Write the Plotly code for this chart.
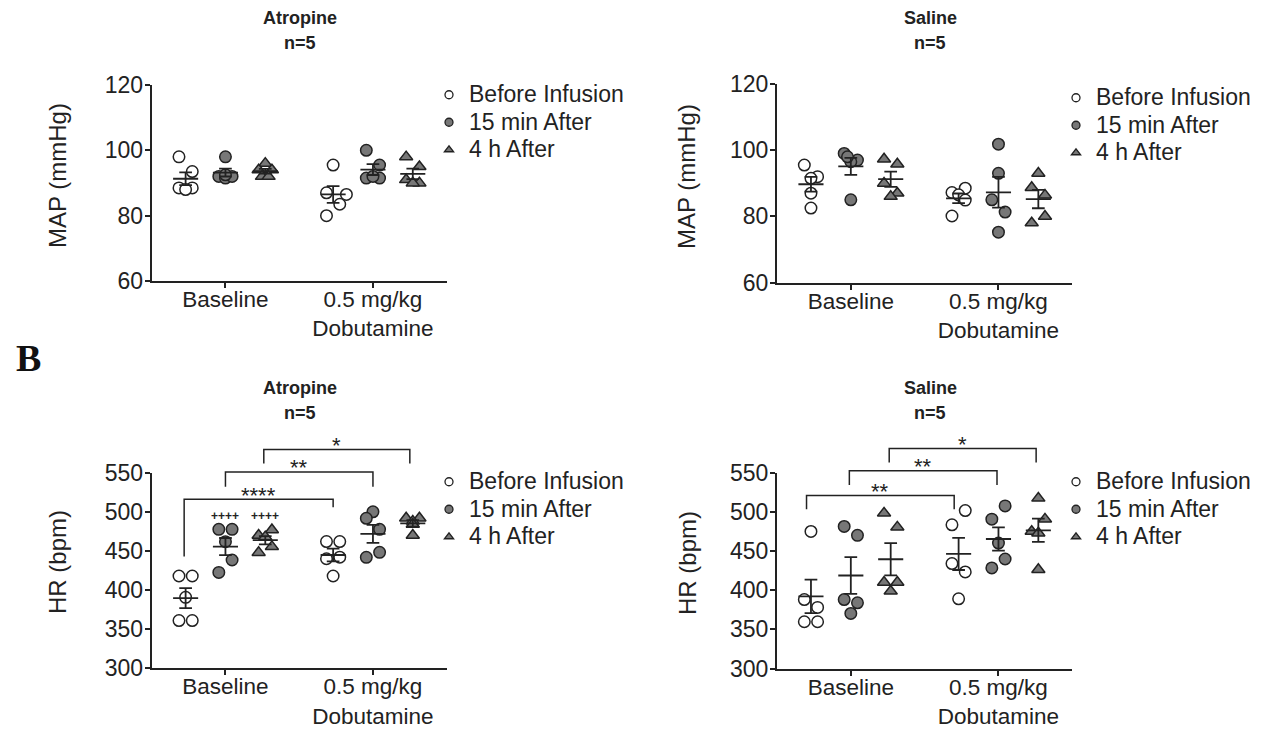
import numpy as np
import plotly.graph_objects as go

W, H = 1262, 730

# ---------------- data ----------------
categories = ["Baseline", "0.5 mg/kg<br>Dobutamine"]
series_names = ["Before Infusion", "15 min After", "4 h After"]

# order of groups: Baseline/Before, Baseline/15min, Baseline/4h, Dob/Before, Dob/15min, Dob/4h
atropine_map = [
    [98, 93.5, 88.5, 88.5, 88],
    [98, 92, 91.5, 92, 92.5],
    [96, 94, 94, 92, 92],
    [95.5, 86.5, 87, 83.5, 80],
    [100, 95.5, 91.5, 91.5, 92],
    [98, 95, 91, 90, 90],
]
saline_map = [
    [95.5, 92, 91.5, 87, 82.5],
    [99, 97, 96.5, 98, 85],
    [97.3, 95.8, 90, 87, 86],
    [88.5, 87.2, 86.5, 84.9, 80.1],
    [101.8, 93, 85, 81.3, 75.2],
    [93, 88.7, 86.4, 80, 78],
]
atropine_hr = [
    [418, 418, 390.7, 361, 361],
    [477.6, 477.6, 461.8, 438.4, 422.6],
    [477, 470, 468, 455.5, 448],
    [462, 462, 440, 442, 418],
    [500, 491.7, 477.6, 441.8, 448.2],
    [492, 492, 488, 484, 470],
]
saline_hr = [
    [475, 388, 378, 359.7, 359.7],
    [481.4, 470, 388, 383.9, 370.3],
    [498.3, 480.5, 410, 410, 398.7],
    [501.7, 483.5, 434, 423.3, 389],
    [507.6, 490.7, 460.2, 439.8, 428.4],
    [517.4, 490.7, 475, 472.9, 426.3],
]

# horizontal scatter (jitter) of each point, in units of one marker radius
atropine_map_jitter = [
    [-1, 1, -1, 1, 0], [0, -1, 0, 1, 0], [0, -1, 1, -0.5, 0.5],
    [0, 2, -1, 1, -1], [-1, 1, -1, 1, 0], [-1, 1, -1, 1, 0],
]
saline_map_jitter = [
    [-1, 1, 0, 0, 0], [-1, 1, 0, -0.5, 0], [-1, 1, -1, 1, 0],
    [1, -1, 0, 1, -1], [0, 0, -1, 1, 0], [0, -1, 1, 1, -1],
]
atropine_hr_jitter = [
    [-1, 1, 0, -1, 1], [-1, 1, 0, 1, -1], [1, -1, 0, 1, -1],
    [-1, 1, -1, 1, 0], [0, -1, 1, -1, 1], [-1, 1, 0, 0, 0],
]
saline_hr_jitter = [
    [0, -1, 1, -1, 1], [-1, 1, -1, 1, 0], [-1, 1, -1, 1, 0],
    [1, -1, -1, 1, 0], [1, -1, 0, 1, -1], [0, 1, -1, 0, 0],
]

y_ticks_map = [60, 80, 100, 120]
y_ticks_hr = [300, 350, 400, 450, 500, 550]

# significance brackets: (x start, x end, top, left leg end, right leg end, label)
atropine_hr_brackets = [
    (-0.28, 0.73, 516, 443, 506, "****"),
    (0.0, 1.0, 551, 532, 532, "**"),
    (0.26, 1.25, 579.6, 561.7, 561.7, "*"),
]
saline_hr_brackets = [
    (-0.30, 0.70, 520.8, 503.4, 503.4, "**"),
    (-0.01, 0.99, 552.5, 534.3, 534.3, "**"),
    (0.26, 1.255, 580.9, 563, 563, "*"),
]
atropine_hr_plus = [(0.0, 494.6, "++++"), (0.27, 494.6, "++++")]

# ---------------- style ----------------
FONT = "Arial, Liberation Sans, sans-serif"
INK = "#222222"
GREY = "#777777"
series_offset = [-0.27, 0.0, 0.27]
JIT = 0.045
marker_style = [
    dict(symbol="circle", color="white"),
    dict(symbol="circle", color=GREY),
    dict(symbol="triangle-up", color=GREY),
]
MEAN_HALF = 0.085
CAP_HALF = 0.043
LEGEND_ROW_FONT = 18.85   # sets the row pitch of the legend
LEGEND_TEXT_PX = 23       # visible size of legend text


def px2paper_x(px):
    return px / W


def px2paper_y(py):
    return 1 - py / H


panels = [
    dict(data=atropine_map, jit=atropine_map_jitter, xd=(151.7, 446.7), yd=(85, 281),
         rng=(60, 120), ticks=y_ticks_map),
    dict(data=saline_map, jit=saline_map_jitter, xd=(777, 1072.3), yd=(84, 282.5),
         rng=(60, 120), ticks=y_ticks_map),
    dict(data=atropine_hr, jit=atropine_hr_jitter, xd=(151.7, 446.7), yd=(472.7, 668.3),
         rng=(300, 550), ticks=y_ticks_hr),
    dict(data=saline_hr, jit=saline_hr_jitter, xd=(777, 1072.3), yd=(472.7, 668.5),
         rng=(300, 550), ticks=y_ticks_hr),
]

fig = go.Figure()
layout = dict(
    template="none",
    width=W, height=H, margin=dict(l=0, r=0, t=0, b=0, pad=0, autoexpand=False),
    paper_bgcolor="white", plot_bgcolor="rgba(0,0,0,0)",
    font=dict(family=FONT, color=INK, size=22),
    showlegend=True,
)

legend_pos = [(429, 76), (1056, 79), (429, 463), (1056, 463)]
legend_ids = ["legend", "legend2", "legend3", "legend4"]

for pi, p in enumerate(panels):
    n = pi + 1
    xa = "x" if n == 1 else f"x{n}"
    ya = "y" if n == 1 else f"y{n}"
    xkey = "xaxis" if n == 1 else f"xaxis{n}"
    ykey = "yaxis" if n == 1 else f"yaxis{n}"
    layout[xkey] = dict(
        domain=[px2paper_x(p["xd"][0]), px2paper_x(p["xd"][1])],
        range=[-0.5, 1.5], anchor=ya, showgrid=False, zeroline=False, automargin=False,
        showline=True, linecolor=INK, linewidth=2,
        tickmode="array", tickvals=[0, 1], ticktext=categories,
        ticks="outside", ticklen=5, tickwidth=2, tickcolor=INK,
        ticklabelstandoff=-8,
        tickfont=dict(size=22.5, family=FONT, color=INK),
    )
    layout[ykey] = dict(
        domain=[px2paper_y(p["yd"][1]), px2paper_y(p["yd"][0])],
        range=list(p["rng"]), anchor=xa, showgrid=False, zeroline=False, automargin=False,
        showline=True, linecolor=INK, linewidth=2,
        tickmode="array", tickvals=p["ticks"],
        ticks="outside", ticklen=5, tickwidth=2, tickcolor=INK,
        ticklabelstandoff=-3,
        tickfont=dict(size=23, family=FONT, color=INK),
    )
    lid = legend_ids[pi]
    lx, ly = legend_pos[pi]
    layout[lid] = dict(
        x=px2paper_x(lx), y=px2paper_y(ly), xanchor="left", yanchor="top",
        bgcolor="rgba(0,0,0,0)", font=dict(size=LEGEND_ROW_FONT, family=FONT, color=INK),
        tracegroupgap=0, itemwidth=30, borderwidth=0,
    )
    # points
    for gi, vals in enumerate(p["data"]):
        cat = gi // 3
        s = gi % 3
        xc = cat + series_offset[s]
        xs = [xc + j * JIT for j in p["jit"][gi]]
        fig.add_trace(go.Scatter(
            x=xs, y=vals, mode="markers", xaxis=xa, yaxis=ya, showlegend=False,
            marker=dict(size=11.5, symbol=marker_style[s]["symbol"],
                        color=marker_style[s]["color"],
                        line=dict(color=INK, width=1.5)),
            hoverinfo="y",
        ))
    # mean +/- SEM
    for gi, vals in enumerate(p["data"]):
        cat = gi // 3
        s = gi % 3
        xc = cat + series_offset[s]
        arr = np.array(vals, dtype=float)
        m = arr.mean()
        sem = arr.std(ddof=1) / np.sqrt(len(arr))
        lx_ = [xc - MEAN_HALF, xc + MEAN_HALF, None,
               xc, xc, None,
               xc - CAP_HALF, xc + CAP_HALF, None,
               xc - CAP_HALF, xc + CAP_HALF]
        ly_ = [m, m, None, m - sem, m + sem, None,
               m + sem, m + sem, None, m - sem, m - sem]
        fig.add_trace(go.Scatter(
            x=lx_, y=ly_, mode="lines", xaxis=xa, yaxis=ya, showlegend=False,
            line=dict(color=INK, width=1.8), hoverinfo="skip",
        ))
    # legend entries
    for s, name in enumerate(series_names):
        fig.add_trace(go.Scatter(
            x=[None], y=[None], mode="markers", xaxis=xa, yaxis=ya,
            name=f'<span style="font-size:{LEGEND_TEXT_PX}px">{name}</span>',
            legend=lid, showlegend=True,
            marker=dict(size=8, symbol=marker_style[s]["symbol"],
                        color=marker_style[s]["color"],
                        line=dict(color=INK, width=1.3)),
        ))

# extended (invisible) subplots that carry the significance brackets above the HR panels
EXT_TOP_PX = 425
for k, (pi, brackets) in enumerate([(2, atropine_hr_brackets), (3, saline_hr_brackets)]):
    p = panels[pi]
    n = 5 + k
    xa, ya = f"x{n}", f"y{n}"
    d0 = px2paper_y(p["yd"][1])
    d1 = px2paper_y(p["yd"][0])
    dtop = px2paper_y(EXT_TOP_PX)
    lo, hi = p["rng"]
    top_val = lo + (hi - lo) * (dtop - d0) / (d1 - d0)
    layout[f"xaxis{n}"] = dict(domain=[px2paper_x(p["xd"][0]), px2paper_x(p["xd"][1])],
                               range=[-0.5, 1.5], anchor=ya, visible=False)
    layout[f"yaxis{n}"] = dict(domain=[d0, dtop], range=[lo, top_val], anchor=xa,
                               visible=False)
    bx, by = [], []
    for (x1, x2, top, l1, l2, lab) in brackets:
        bx += [x1, x1, x2, x2, None]
        by += [l1, top, top, l2, None]
    fig.add_trace(go.Scatter(x=bx, y=by, mode="lines", xaxis=xa, yaxis=ya,
                             showlegend=False, line=dict(color=INK, width=1.5),
                             hoverinfo="skip"))
    ann = layout.setdefault("annotations", [])
    for (x1, x2, top, l1, l2, lab) in brackets:
        ann.append(dict(x=(x1 + x2) / 2, y=top, xref=xa, yref=ya, text=lab,
                        showarrow=False, yanchor="middle", yshift=4,
                        font=dict(size=22, family=FONT, color=INK)))
    if pi == 2:
        for (x, y, lab) in atropine_hr_plus:
            ann.append(dict(x=x, y=y, xref=xa, yref=ya, text=f"<b>{lab}</b>",
                            showarrow=False, yanchor="middle",
                            font=dict(size=12, family=FONT, color=INK)))

ann = layout.setdefault("annotations", [])
# panel titles
for (txt, xpx, ypx) in [("Atropine", 300, 18), ("n=5", 300, 43),
                        ("Saline", 930, 18), ("n=5", 930, 43),
                        ("Atropine", 300, 388), ("n=5", 300, 413),
                        ("Saline", 930, 388), ("n=5", 930, 413)]:
    ann.append(dict(x=px2paper_x(xpx), y=px2paper_y(ypx), xref="paper", yref="paper",
                    text=f"<b>{txt}</b>", showarrow=False, xanchor="center",
                    yanchor="middle", font=dict(size=18, family=FONT, color=INK)))
# y-axis titles
for (txt, xpx, ypx) in [("MAP (mmHg)", 57, 176), ("MAP (mmHg)", 687, 177),
                        ("HR (bpm)", 57, 562), ("HR (bpm)", 687, 563)]:
    ann.append(dict(x=px2paper_x(xpx), y=px2paper_y(ypx), xref="paper", yref="paper",
                    text=txt, textangle=-90, showarrow=False, xanchor="center",
                    yanchor="middle", font=dict(size=24, family=FONT, color=INK)))
# panel letter
ann.append(dict(x=px2paper_x(28), y=px2paper_y(358), xref="paper", yref="paper",
                text="<b>B</b>", showarrow=False, xanchor="center", yanchor="middle",
                font=dict(size=38, family="Liberation Serif, Times New Roman, serif",
                          color="#111111")))

fig.update_layout(**layout)
fig.write_html("out.html", config={"displayModeBar": False},
               post_script="document.body.style.margin='0px';")
